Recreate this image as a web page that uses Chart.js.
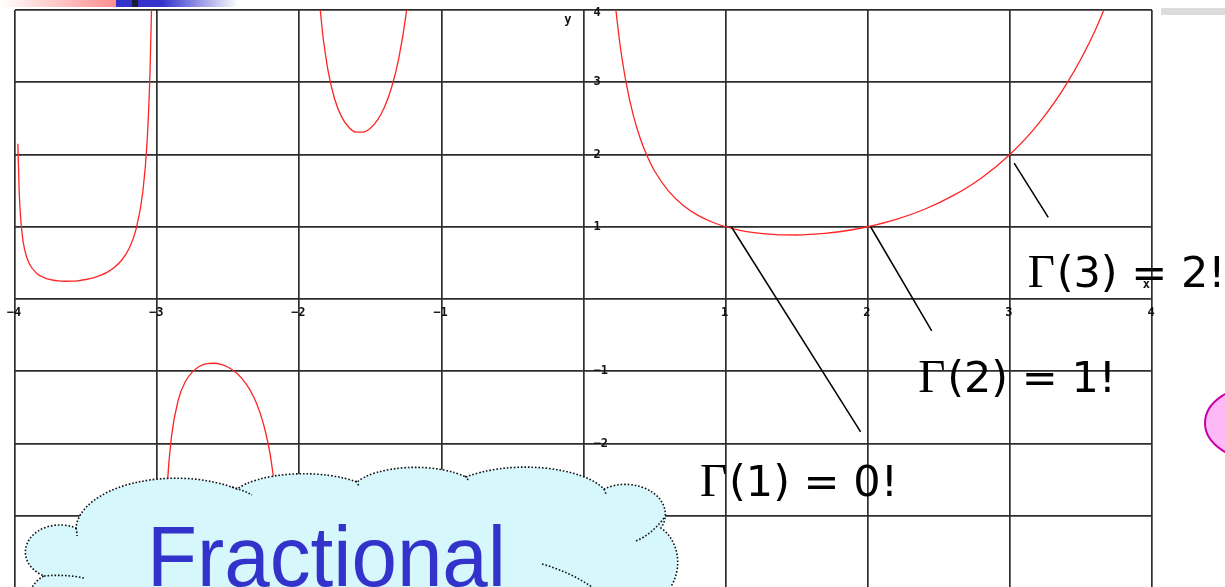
<!DOCTYPE html>
<html>
<head>
<meta charset="utf-8">
<title>Gamma function</title>
<script src="https://cdn.jsdelivr.net/npm/chart.js@4.4.0/dist/chart.umd.min.js"></script>
<style>
  html, body { margin: 0; padding: 0; background: #fff; overflow: hidden; }
  body { width: 1225px; height: 587px; position: relative; }
  #plot { position: absolute; left: 0; top: 0; width: 1225px; height: 600px; }
  .deco { position: absolute; }
  svg.overlay { position: absolute; left: 0; top: 0; }
</style>
</head>
<body>
<div id="plot"><canvas id="gamma" width="1225" height="600"></canvas></div>

<!-- slide title bar pieces -->
<div class="deco" style="left:0;top:0;width:116px;height:7px;background:linear-gradient(to right,#fff,#ff8e8e)"></div>
<div class="deco" style="left:116px;top:0;width:122px;height:7px;background:linear-gradient(to right,#3333cc 0%,#3333cc 38%,#fff 100%)"></div>
<div class="deco" style="left:132px;top:0;width:6px;height:7px;background:#1d1d3a"></div>
<div class="deco" style="left:1161px;top:8px;width:64px;height:7px;background:#dcdcdc"></div>

<svg class="overlay" width="1225" height="587">
  <ellipse cx="1262" cy="423" rx="57" ry="38" fill="#fcb9f5" stroke="#c800a8" stroke-width="2"/>
  <g fill="none" stroke="#111" stroke-width="1.6" stroke-dasharray="1.6 1.9">
    <path fill="#d6f7fc" d="M 28,600 A 30 30 0 0 1 44,576
      A 32 25 0 1 1 76,528
      A 100 52 0 0 1 237,489
      A 75 28 0 0 1 357,482
      A 65 26 0 0 1 466,477
      A 85 35 0 0 1 604,489
      A 40 30 0 0 1 661,528
      A 34 40 0 0 1 632,600 Z"/>
    <path d="M 44,576 Q 64,574 84,578"/>
    <path d="M 76,528 q 1,4 1,8"/>
    <path d="M 232,487 Q 243,490 252,495"/>
    <path d="M 356,481 l 3,5"/>
    <path d="M 465,476 l 4,5"/>
    <path d="M 604,489 l 2,5"/>
    <path d="M 664,518 Q 652,534 636,541"/>
    <path d="M 542,564 Q 570,572 592,587"/>
  </g>
  <text x="147" y="586" font-family="Liberation Sans" font-size="86" fill="#3333cc"
        textLength="359" lengthAdjust="spacingAndGlyphs">Fractional</text>
</svg>

<script>
// Gamma function, one array pair per branch between the poles
const xsM4toM3 = [-3.98, -3.97, -3.95, -3.93, -3.9, -3.85, -3.8, -3.75, -3.7, -3.65, -3.6, -3.55, -3.5, -3.45, -3.4, -3.35, -3.3, -3.25, -3.2, -3.15, -3.1, -3.07, -3.05, -3.04, -3.03];
const gammaM4toM3 = [2.148, 1.455, 0.902, 0.667, 0.492, 0.361, 0.300, 0.268, 0.252, 0.246, 0.247, 0.255, 0.270, 0.293, 0.326, 0.372, 0.439, 0.536, 0.689, 0.952, 1.492, 2.195, 3.142, 3.965, 5.354];

const xsM3toM2 = [-2.97, -2.95, -2.93, -2.9, -2.85, -2.8, -2.75, -2.7, -2.65, -2.6, -2.55, -2.5, -2.45, -2.4, -2.35, -2.3, -2.25, -2.2, -2.15, -2.12, -2.1];
const gammaM3toM2 = [-5.777, -3.563, -2.619, -1.918, -1.388, -1.139, -1.005, -0.931, -0.896, -0.889, -0.905, -0.945, -1.011, -1.108, -1.247, -1.447, -1.743, -2.205, -3.000, -3.809, -4.626];

const xsM2toM1 = [-1.93, -1.9, -1.85, -1.8, -1.75, -1.7, -1.65, -1.6, -1.55, -1.5, -1.45, -1.4, -1.35, -1.3, -1.25, -1.2, -1.15];
const gammaM2toM1 = [7.674, 5.564, 3.956, 3.188, 2.762, 2.514, 2.374, 2.311, 2.309, 2.363, 2.477, 2.659, 2.931, 3.328, 3.921, 4.851, 6.449];

const xsM1to0 = [-0.9, -0.8, -0.75, -0.7, -0.65, -0.6, -0.55, -0.5, -0.45, -0.4, -0.35, -0.3, -0.25, -0.2, -0.1];
const gammaM1to0 = [-10.571, -5.739, -4.834, -4.274, -3.917, -3.697, -3.579, -3.545, -3.591, -3.723, -3.957, -4.327, -4.902, -5.821, -10.686];

const xs0to4 = [0.15, 0.2, 0.25, 0.3, 0.35, 0.4, 0.45, 0.5, 0.6, 0.7, 0.8, 0.9, 1.0, 1.1, 1.2, 1.3, 1.4, 1.5, 1.6, 1.7, 1.8, 1.9, 2.0, 2.2, 2.4, 2.6, 2.8, 3.0, 3.2, 3.4, 3.6, 3.8];
const gamma0to4 = [6.220, 4.591, 3.626, 2.992, 2.546, 2.218, 1.968, 1.772, 1.489, 1.298, 1.164, 1.069, 1.000, 0.951, 0.918, 0.898, 0.887, 0.886, 0.894, 0.909, 0.931, 0.962, 1.000, 1.102, 1.242, 1.430, 1.676, 2.000, 2.424, 2.981, 3.717, 4.694];

// tick labels along the axes through the origin
const xTickLabels = [-4, -3, -2, -1, 1, 2, 3, 4];
const yTickLabels = [4, 3, 2, 1, -1, -2, -3];

// factorial callouts: Γ(n) = (n-1)!
const calloutArgs = ['1', '2', '3'];
const calloutFacts = ['0!', '1!', '2!'];
const leaderFromX = [1.04, 2.02, 3.03];
const leaderFromY = [1.0, 1.0, 1.88];
const leaderToX = [1.95, 2.45, 3.27];
const leaderToY = [-1.84, -0.44, 1.13];
const calloutTextX = [0.82, 2.355, 3.125];
const calloutTextY = [-2.73, -1.29, 0.17];

const branches = [
  [xsM4toM3, gammaM4toM3],
  [xsM3toM2, gammaM3toM2],
  [xsM2toM1, gammaM2toM1],
  [xsM1to0, gammaM1to0],
  [xs0to4, gamma0to4],
];

function fmt(v) {
  return v < 0 ? '\u2212' + Math.abs(v) : String(v);
}

const axisText = {
  id: 'axisText',
  afterDatasetsDraw(chart) {
    const { ctx, scales: { x, y } } = chart;
    const x0 = x.getPixelForValue(0);
    const y0 = y.getPixelForValue(0);
    ctx.save();
    ctx.fillStyle = '#111';
    ctx.font = 'bold 12px "DejaVu Sans Mono"';
    ctx.textAlign = 'center';
    ctx.textBaseline = 'top';
    xTickLabels.forEach(v => ctx.fillText(fmt(v), x.getPixelForValue(v) - 1, y0 + 8));
    ctx.textAlign = 'left';
    ctx.textBaseline = 'middle';
    yTickLabels.forEach(v => ctx.fillText(fmt(v), x0 + 10, y.getPixelForValue(v) + (v === 4 ? 3 : 0)));
    ctx.textAlign = 'right';
    ctx.fillText('y', x0 - 12, y.top + 10);
    ctx.fillText('x', x.right - 2, y0 - 14);
    ctx.restore();
  }
};

const callouts = {
  id: 'callouts',
  afterDatasetsDraw(chart) {
    const { ctx, scales: { x, y } } = chart;
    ctx.save();
    ctx.strokeStyle = '#000';
    ctx.lineWidth = 1.5;
    ctx.fillStyle = '#000';
    ctx.textBaseline = 'alphabetic';
    ctx.textAlign = 'left';
    calloutArgs.forEach((arg, i) => {
      ctx.beginPath();
      ctx.moveTo(x.getPixelForValue(leaderFromX[i]), y.getPixelForValue(leaderFromY[i]));
      ctx.lineTo(x.getPixelForValue(leaderToX[i]), y.getPixelForValue(leaderToY[i]));
      ctx.stroke();

      const tx = x.getPixelForValue(calloutTextX[i]);
      const ty = y.getPixelForValue(calloutTextY[i]);
      ctx.font = '47px "Liberation Serif"';
      ctx.fillText('\u0393', tx, ty);
      ctx.font = '43px "DejaVu Sans"';
      ctx.fillText('(' + arg + ') = ' + calloutFacts[i], tx + 29, ty);
    });
    ctx.restore();
  }
};

new Chart(document.getElementById('gamma'), {
  type: 'scatter',
  data: {
    datasets: branches.map(([xs, ys]) => ({
      data: xs.map((v, i) => ({ x: v, y: ys[i] })),
      showLine: true,
      borderColor: '#ff2424',
      borderWidth: 1.3,
      pointRadius: 0,
      cubicInterpolationMode: 'monotone',
      fill: false,
    })),
  },
  options: {
    responsive: false,
    animation: false,
    events: [],
    layout: { padding: { left: 15, top: 10, right: 73, bottom: 12 } },
    plugins: { legend: { display: false }, tooltip: { enabled: false } },
    scales: {
      x: {
        type: 'linear', min: -4, max: 4,
        ticks: { stepSize: 1, display: false },
        grid: { color: '#2e2e2e', lineWidth: 1.7, drawTicks: false },
        border: { display: false },
      },
      y: {
        type: 'linear', min: -4, max: 4,
        ticks: { stepSize: 1, display: false },
        grid: { color: '#2e2e2e', lineWidth: 1.7, drawTicks: false },
        border: { display: false },
      },
    },
  },
  plugins: [axisText, callouts],
});
</script>
</body>
</html>
